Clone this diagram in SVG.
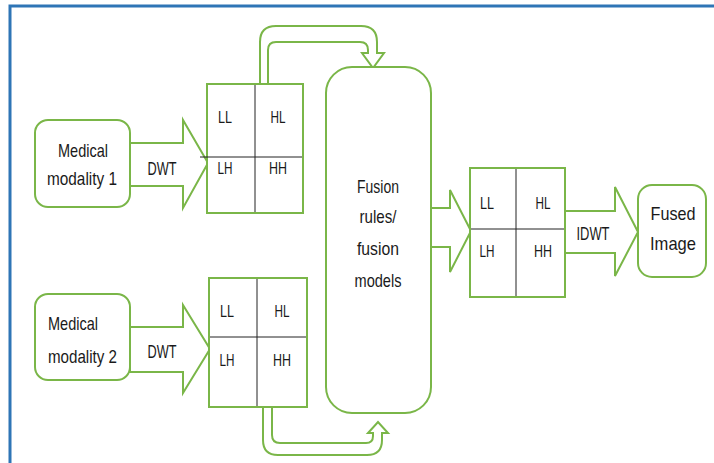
<svg xmlns="http://www.w3.org/2000/svg" width="714" height="463" viewBox="0 0 714 463">
<style>
.g{fill:#fff;stroke:#7AB648;stroke-width:2;stroke-linejoin:miter}
.d{stroke:#222;stroke-width:1}
text{font-family:"Liberation Sans",Arial,sans-serif;font-size:18.5px;fill:#1a1a1a}
.c{text-anchor:middle}
.s{font-size:17px}
</style>
<rect x="0" y="0" width="714" height="463" fill="#fff"/>
<rect x="10" y="6" width="720" height="480" fill="none" stroke="#2E75B6" stroke-width="3"/>
<g id="connectors">
<path class="g" d="M260,84 V42 Q260,26 276,26 H361 Q377,26 377,42 V53 H384 L373,68 L362,53 H368 V50 Q368,42 360,42 H276 Q268,42 268,50 V84"/>
<path class="g" d="M263,408 V440 Q263,455 278,455 H367 Q382,455 382,440 V433 H388 L378,422 L368,433 H373 V436 Q373,443 366,443 H280 Q272,443 272,435 V408"/>
<g id="dwt1"><polygon class="g" points="130,143 183,143 183,120 208,163 183,208 183,186 130,186"/><text class="c" x="162" y="175" textLength="29" lengthAdjust="spacingAndGlyphs">DWT</text></g>
<g id="dwt2"><polygon class="g" points="130,327 183,327 183,305 210,349 183,393 183,372 130,372"/><text class="c" x="162" y="358" textLength="29" lengthAdjust="spacingAndGlyphs">DWT</text></g>
<g id="fuse-arrow"><polygon class="g" points="431,208 450,208 450,190 471,231 450,272 450,247 431,247"/></g>
<g id="idwt"><polygon class="g" points="565,211 615,211 615,187 638,232 615,276 615,253 565,253"/><text class="c" x="593" y="240" textLength="33" lengthAdjust="spacingAndGlyphs">IDWT</text></g>
</g>
<g id="modality1">
<rect class="g" x="35" y="120" width="95" height="87" rx="13"/>
<text class="c" x="83" y="157" textLength="50" lengthAdjust="spacingAndGlyphs">Medical</text>
<text class="c" x="82" y="185" textLength="70" lengthAdjust="spacingAndGlyphs">modality 1</text>
</g>
<g id="modality2">
<rect class="g" x="35" y="294" width="95" height="86" rx="13"/>
<text x="48" y="330" textLength="50" lengthAdjust="spacingAndGlyphs">Medical</text>
<text x="48" y="363" textLength="69" lengthAdjust="spacingAndGlyphs">modality 2</text>
</g>
<g id="grid1">
<rect class="g" x="207" y="84" width="96" height="129"/>
<line class="d" x1="255" y1="85" x2="255" y2="212"/>
<line class="d" x1="200" y1="157" x2="302" y2="157"/>
<text class="c s" x="225" y="123" textLength="14" lengthAdjust="spacingAndGlyphs">LL</text>
<text class="c s" x="278" y="123" textLength="15" lengthAdjust="spacingAndGlyphs">HL</text>
<text class="c s" x="225" y="174" textLength="15" lengthAdjust="spacingAndGlyphs">LH</text>
<text class="c s" x="278" y="174" textLength="18" lengthAdjust="spacingAndGlyphs">HH</text>
</g>
<g id="grid2">
<rect class="g" x="209" y="278" width="98" height="129"/>
<line class="d" x1="257" y1="279" x2="257" y2="406"/>
<line class="d" x1="210" y1="337" x2="306" y2="337"/>
<text class="c s" x="227" y="317" textLength="14" lengthAdjust="spacingAndGlyphs">LL</text>
<text class="c s" x="282" y="317" textLength="15" lengthAdjust="spacingAndGlyphs">HL</text>
<text class="c s" x="227" y="366" textLength="15" lengthAdjust="spacingAndGlyphs">LH</text>
<text class="c s" x="282" y="366" textLength="18" lengthAdjust="spacingAndGlyphs">HH</text>
</g>
<g id="fusion">
<rect class="g" x="326" y="67" width="105" height="346" rx="26"/>
<text class="c" x="378" y="193" textLength="42" lengthAdjust="spacingAndGlyphs">Fusion</text>
<text class="c" x="378" y="223" textLength="37" lengthAdjust="spacingAndGlyphs">rules/</text>
<text class="c" x="378" y="255" textLength="42" lengthAdjust="spacingAndGlyphs">fusion</text>
<text class="c" x="378" y="287" textLength="47" lengthAdjust="spacingAndGlyphs">models</text>
</g>
<g id="grid3">
<rect class="g" x="470" y="168" width="95" height="129"/>
<line class="d" x1="516" y1="169" x2="516" y2="296"/>
<line class="d" x1="471" y1="229" x2="564" y2="229"/>
<text class="c s" x="487" y="209" textLength="14" lengthAdjust="spacingAndGlyphs">LL</text>
<text class="c s" x="543" y="209" textLength="15" lengthAdjust="spacingAndGlyphs">HL</text>
<text class="c s" x="487" y="257" textLength="15" lengthAdjust="spacingAndGlyphs">LH</text>
<text class="c s" x="543" y="257" textLength="18" lengthAdjust="spacingAndGlyphs">HH</text>
</g>
<g id="fused">
<rect class="g" x="638" y="185" width="68" height="92" rx="14"/>
<text class="c" x="673" y="220" textLength="45" lengthAdjust="spacingAndGlyphs">Fused</text>
<text class="c" x="673" y="250" textLength="46" lengthAdjust="spacingAndGlyphs">Image</text>
</g>
</svg>
